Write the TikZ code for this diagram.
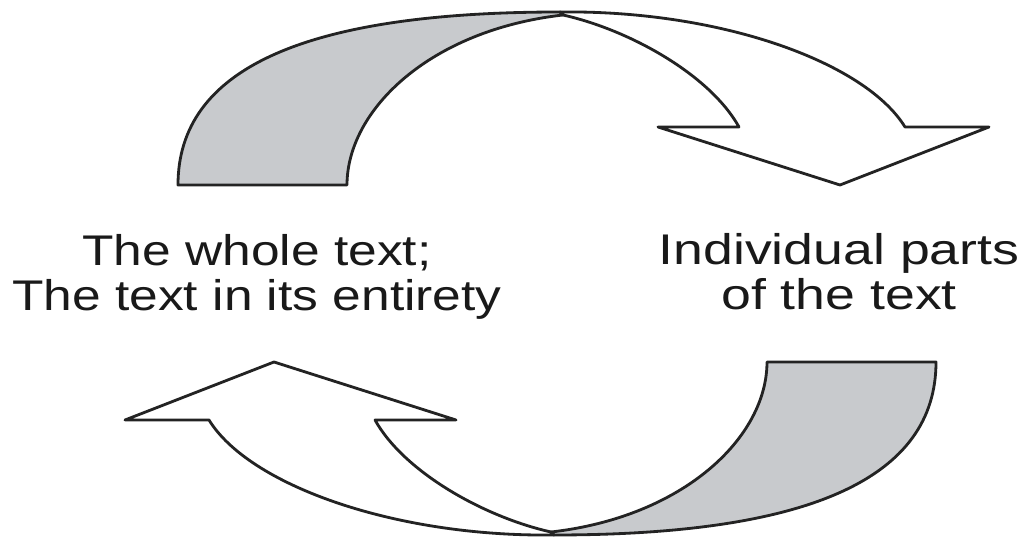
\documentclass[tikz,border=0pt]{standalone}
\usepackage{fontspec}
\setmainfont{Liberation Sans}
\usepackage{graphicx}
\definecolor{backgray}{RGB}{200,202,205}
\definecolor{inkline}{RGB}{35,35,35}
\begin{document}
\begin{tikzpicture}[x=0.01cm,y=-0.01cm]
\tikzset{
  ribbon/.style={draw=inkline, line width=0.8pt, line join=round},
  backside/.style={ribbon, fill=backgray},
  frontside/.style={ribbon, fill=white},
  txt/.style={font=\fontsize{12.2}{12.8}\selectfont, align=center, inner sep=0pt, text=black!90},
  cyclearrow/.pic={
    % grey back side of the ribbon
    \path[backside] (178,185) .. controls (178,69) and (304,12) .. (560,12)
      -- (563,15) .. controls (430,30) and (347,110) .. (347,185) -- cycle;
    % white front side with the arrow head
    \path[frontside] (560,12) .. controls (720,10) and (865,62) .. (905,127)
      -- (989,127) -- (840,185) -- (658,127) -- (739,127)
      .. controls (710,75) and (630,30) .. (563,15) -- cycle;
  }
}
\useasboundingbox (0,0) rectangle (1027,537);
\fill[white] (0,0) rectangle (1027,537);

\pic (toparrow) at (0,0) {cyclearrow};
\pic[rotate=180] (bottomarrow) at (1114,547) {cyclearrow};

\node[txt] (whole) at (257,276.5)
  {\scalebox{1.2}[1]{The whole text;}\\\scalebox{1.2}[1]{The text in its entirety}};
\node[txt] (parts) at (839,272)
  {\scalebox{1.25}[1]{Individual parts}\\\scalebox{1.25}[1]{of the text}};
\end{tikzpicture}
\end{document}
